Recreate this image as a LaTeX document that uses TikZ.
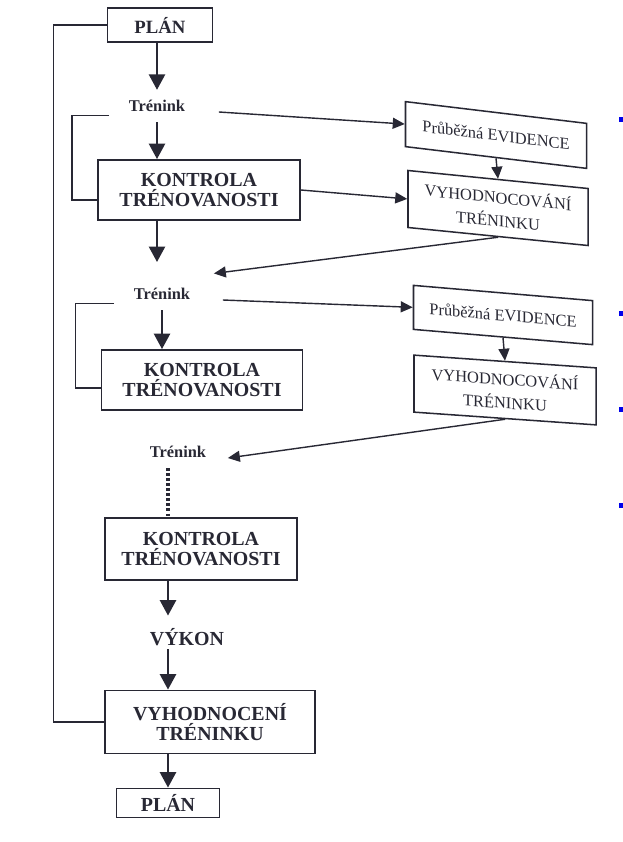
\documentclass[tikz,border=0pt]{standalone}
\usepackage{fontspec}
\setmainfont{Liberation Serif}
\usepackage{xcolor}
\usepackage{tikz}
\usetikzlibrary{arrows.meta}

\definecolor{ink}{RGB}{40,40,52}
\definecolor{bulletblue}{RGB}{0,0,235}

\begin{document}
\begin{tikzpicture}[x=0.03cm,y=-0.03cm,color=ink,
            >={Triangle[length=4.6mm,width=4.8mm]}]
        \tikzstyle{box}=[draw=ink,line width=1.6pt,align=center,inner sep=2pt,
            font=\fontsize{17}{17.5}\selectfont\bfseries]
        \tikzstyle{evbox}=[draw=ink,line width=1.3pt,align=center,inner sep=2pt,
            font=\fontsize{14}{20}\selectfont]
        \tikzstyle{lab}=[inner sep=3pt,font=\fontsize{14}{16}\selectfont\bfseries]
        \tikzstyle{main}=[->,line width=1.9pt]
        \tikzstyle{line}=[line width=1.2pt]
        \tikzstyle{sidearr}=[line width=1.2pt,-{Triangle[length=3.6mm,width=3.3mm]}]
        \tikzstyle{dots}=[line width=2.8pt,dash pattern=on 2.5pt off 1.8pt]

        \useasboundingbox (0,0) rectangle (623,842);

        \node[box,minimum width=3.15cm,minimum height=1.02cm,
            font=\fontsize{16}{16}\selectfont\bfseries] (plan) at (160,25) {PLÁN};
        \node[lab] (tr1) at (157,106) {Trénink};
        \node[box,minimum width=6.06cm,minimum height=1.8cm] (kt1) at (199,190)
            {KONTROLA\\TRÉNOVANOSTI};
        \node[evbox,yslant=-0.12,minimum width=5.43cm,minimum height=1.35cm] (ev1)
            at (496,135) {Průběžná EVIDENCE};
        \node[evbox,yslant=-0.10,minimum width=5.4cm,minimum height=1.71cm] (vh1)
            at (498,208) {VYHODNOCOVÁNÍ\\TRÉNINKU};

        \node[lab] (tr2) at (162,294) {Trénink};
        \node[box,minimum width=6.03cm,minimum height=1.8cm] (kt2) at (202,380)
            {KONTROLA\\TRÉNOVANOSTI};
        \node[evbox,yslant=-0.085,minimum width=5.37cm,minimum height=1.32cm] (ev2)
            at (503,315) {Průběžná EVIDENCE};
        \node[evbox,yslant=-0.07,minimum width=5.46cm,minimum height=1.71cm] (vh2)
            at (505,390) {VYHODNOCOVÁNÍ\\TRÉNINKU};

        \node[lab] (tr3) at (178,452) {Trénink};
        \node[box,minimum width=5.76cm,minimum height=1.86cm] (kt3) at (201,549)
            {KONTROLA\\TRÉNOVANOSTI};
        \node[lab,font=\fontsize{17}{17}\selectfont\bfseries] (vykon) at (187,637) {VÝKON};
        \node[box,minimum width=6.3cm,minimum height=1.89cm] (vyh) at (210,722)
            {VYHODNOCENÍ\\TRÉNINKU};
        \node[box,minimum width=3.09cm,minimum height=0.87cm] (plan2) at (168,803) {PLÁN};

        \coordinate (k1end) at (157,262);

        % first cycle
        \draw[main,shorten >=0.2cm] (plan.south -| tr1) -- (tr1.north);
        \draw[main,shorten <=0.2cm] (tr1.south) -- (tr1.south |- kt1.north);
        \draw[line] ([xshift=-0.48cm]tr1.south west)
            -| ([xshift=-0.75cm,yshift=-0.3cm]kt1.west) -- ([yshift=-0.3cm]kt1.west);
        \draw[sidearr] ([xshift=0.9cm,yshift=-0.18cm]tr1.east) -- (ev1.west);
        \draw[sidearr] (kt1.east) -- (vh1.west);
        \draw[sidearr] (ev1.south) -- (vh1.north);
        \draw[main] (kt1.south -| k1end) -- (k1end);
        \draw[sidearr] (vh1.south) -- ([xshift=0.6cm,yshift=0.33cm]tr2.north east);

        % second cycle
        \draw[main,shorten <=0.2cm] (tr2.south) -- (tr2.south |- kt2.north);
        \draw[line] ([xshift=-0.48cm]tr2.south west)
            -| ([xshift=-0.75cm,yshift=-0.24cm]kt2.west) -- ([yshift=-0.24cm]kt2.west);
        \draw[sidearr] ([xshift=0.87cm,yshift=-0.18cm]tr2.east) -- (ev2.west);
        \draw[sidearr] (ev2.south) -- (vh2.north);
        \draw[sidearr] (vh2.south) -- ([xshift=0.54cm,yshift=-0.18cm]tr3.east);

        % end
        \draw[dots,shorten <=0.2cm] (tr3.south -| plan2) -- (kt3.north -| plan2);
        \draw[main,shorten >=0.27cm] (kt3.south -| plan2) -- (vykon.north -| plan2);
        \draw[main] (vykon.south -| plan2) -- (vyh.north -| plan2);
        \draw[main] (vyh.south -| plan2) -- (plan2.north);
        \draw[line] (vyh.west) -| ([xshift=-1.6cm]plan.west) -- (plan.west);

        \foreach \y in {117,311,407,503}
            \fill[bulletblue] (619,\y) rectangle (623,\y+5);
\end{tikzpicture}
\end{document}
